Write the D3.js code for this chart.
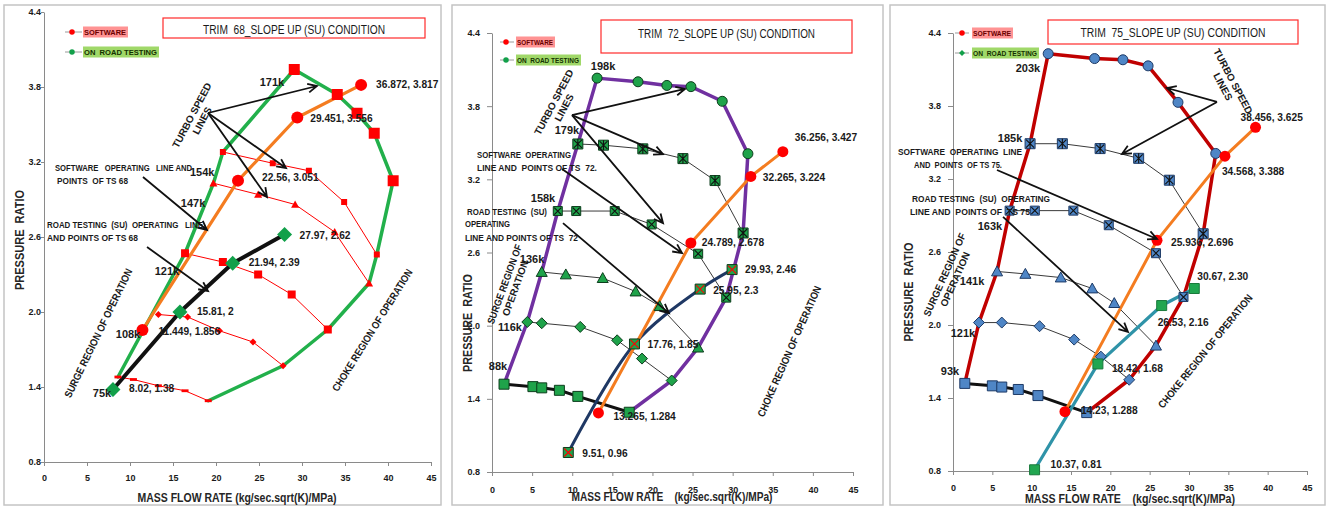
<!DOCTYPE html>
<html>
<head>
<meta charset="utf-8">
<script src="https://cdnjs.cloudflare.com/ajax/libs/d3/7.8.5/d3.min.js"></script>
<style>
  body { margin: 0; background: #fff; }
  svg { display: block; }
  text { font-family: "Liberation Sans Narrow", "Arial Narrow", "Liberation Sans", Arial, sans-serif; white-space: pre; }
</style>
</head>
<body>
<svg id="chart" width="1335" height="508"></svg>
<script>
// ---------- shared axis values ----------
const xTicks = [0, 5, 10, 15, 20, 25, 30, 35, 40, 45];
const yTicks = [0.8, 1.4, 2.0, 2.6, 3.2, 3.8, 4.4];

// ---------- TRIM 68 : [mass flow, pressure ratio] ----------
const t68Envelope = [[8.6,1.48],[16.4,2.47],[19.7,3.03],[20.8,3.28],[29.1,3.94],[34.1,3.74],[36.4,3.59],[38.4,3.43],[40.6,3.05],[38.7,2.46],[37.8,2.23],[33.0,1.86],[27.8,1.57],[19.1,1.29]];
const t68Speed171 = [[29.1,3.94],[34.1,3.74],[36.4,3.59],[38.4,3.43],[40.6,3.05]];
const t68Speed154 = [[20.8,3.28],[26.6,3.19],[30.8,3.13],[34.9,2.88],[38.7,2.46]];
const t68Speed147 = [[19.7,3.03],[24.9,2.94],[29.2,2.86],[33.8,2.64],[37.8,2.23]];
const t68Speed121 = [[16.4,2.47],[20.8,2.40],[24.9,2.30],[28.8,2.14],[33.0,1.86]];
const t68Speed108 = [[13.3,1.98],[16.7,1.96],[20.4,1.85],[24.3,1.76],[27.8,1.57]];
const t68Speed75  = [[8.6,1.48],[10.4,1.46],[13.3,1.41],[16.4,1.37],[19.1,1.29]];
const t68Software = [[11.449,1.856],[22.56,3.051],[29.451,3.556],[36.872,3.817]];
const t68Road     = [[8.02,1.38],[15.81,2],[21.94,2.39],[27.97,2.62]];
const t68SoftwareLabels = ["11.449, 1.856","22.56, 3.051","29.451, 3.556","36.872, 3.817"];
const t68RoadLabels     = ["8.02, 1.38","15.81, 2","21.94, 2.39","27.97, 2.62"];
const t68SpeedNames = ["171k","154k","147k","121k","108k","75k"];

// ---------- TRIM 72 ----------
const t72Envelope = [[1.5,1.52],[4.4,2.03],[6.2,2.44],[8.2,2.94],[10.7,3.49],[13.1,4.03],[18.2,4.0],[21.8,3.97],[24.8,3.96],[28.7,3.84],[31.9,3.41],[31.3,2.76],[29.2,2.23],[25.7,1.82],[22.4,1.55],[17.1,1.29]];
const t72Speed198 = [[13.1,4.03],[18.2,4.0],[21.8,3.97],[24.8,3.96],[28.7,3.84],[31.9,3.41]];
const t72Speed179 = [[10.7,3.49],[13.9,3.48],[18.8,3.45],[23.8,3.37],[27.8,3.19],[31.3,2.76]];
const t72Speed158 = [[8.2,2.94],[10.5,2.94],[15.3,2.94],[19.9,2.83],[25.7,2.59],[29.2,2.23]];
const t72Speed136 = [[6.2,2.44],[9.2,2.42],[13.8,2.39],[17.9,2.28],[20.9,2.16],[25.7,1.82]];
const t72Speed116 = [[4.4,2.03],[6.2,2.02],[11.0,1.99],[15.6,1.88],[18.7,1.73],[22.4,1.55]];
const t72Speed88  = [[1.5,1.52],[5.1,1.50],[6.2,1.49],[8.4,1.47],[10.7,1.42],[17.1,1.29]];
const t72Software = [[13.265,1.284],[24.789,2.678],[32.265,3.224],[36.256,3.427]];
const t72Road     = [[9.51,0.96],[17.76,1.85],[25.95,2.3],[29.93,2.46]];
const t72SoftwareLabels = ["13.265, 1.284","24.789, 2.678","32.265, 3.224","36.256, 3.427"];
const t72RoadLabels     = ["9.51, 0.96","17.76, 1.85","25.95, 2.3","29.93, 2.46"];
const t72SpeedNames = ["198k","179k","158k","136k","116k","88k"];

// ---------- TRIM 75 ----------
const t75Envelope = [[1.5,1.52],[3.3,2.02],[5.6,2.44],[7.2,2.94],[9.8,3.49],[12.1,4.23],[18.0,4.19],[21.6,4.18],[24.8,4.13],[28.6,3.83],[33.4,3.41],[31.8,2.75],[29.3,2.23],[25.8,1.83],[22.4,1.55],[17.0,1.28]];
const t75Speed203 = [[12.1,4.23],[18.0,4.19],[21.6,4.18],[24.8,4.13],[28.6,3.83],[33.4,3.41]];
const t75Speed185 = [[9.8,3.49],[13.9,3.49],[18.7,3.45],[23.6,3.37],[27.5,3.19],[31.8,2.75]];
const t75Speed163 = [[7.2,2.94],[10.4,2.94],[15.3,2.94],[19.8,2.82],[25.8,2.59],[29.3,2.23]];
const t75Speed141 = [[5.6,2.44],[9.2,2.42],[13.7,2.39],[17.7,2.30],[20.5,2.18],[25.8,1.83]];
const t75Speed121 = [[3.3,2.02],[6.2,2.02],[11.0,1.99],[15.4,1.88],[18.8,1.74],[22.4,1.55]];
const t75Speed93  = [[1.5,1.52],[5.0,1.50],[6.2,1.49],[8.3,1.47],[10.8,1.42],[17.0,1.28]];
const t75Software = [[14.23,1.288],[25.936,2.696],[34.568,3.388],[38.456,3.625]];
const t75Road     = [[10.37,0.81],[18.42,1.68],[26.53,2.16],[30.67,2.30]];
const t75SoftwareLabels = ["14.23, 1.288","25.936, 2.696","34.568, 3.388","38.456, 3.625"];
const t75RoadLabels     = ["10.37, 0.81","18.42, 1.68","26.53, 2.16","30.67, 2.30"];
const t75SpeedNames = ["203k","185k","163k","141k","121k","93k"];

const xTitleText = "MASS FLOW RATE (kg/sec.sqrt(K)/MPa)";
const xTitleWide = "MASS FLOW RATE    (kg/sec.sqrt(K)/MPa)";
const yTitleText = "PRESSURE  RATIO";

// ---------- colours ----------
const RED = "#ff0000", ORANGE = "#f47c20", BLACK = "#111";
const G72 = "#1fa34a", G72S = "#0c3d1c";
const B75 = "#4f86c6", B75S = "#1d3a66";

// ---------- panel layouts ----------
const panels = [
  {
    frame: [4, 5, 441, 505],
    plot: { left: 44, right: 431, top: 12, bottom: 462 },
    yTick: { size: 3, pad: 0 }, xTick: { size: 4, pad: 9 },
    title: { text: "TRIM  68_SLOPE UP (SU) CONDITION", box: [163, 18, 262, 20], ty: 30, len: 182 },
    legend: { x1: 65, x2: 82, dot: 72, y1: 32, y2: 52, tx: 84, w1: 45, w2: 76, roadDot: "circle" },
    xTitle: { text: xTitleText, x: 237, y: 498, len: 199 },
    yTitle: { x: 20, y: 240, len: 100 },
    series: [
      { data: t68Speed154, line: { color: RED, width: 1 }, marker: { type: "square", size: 6, fill: RED } },
      { data: t68Speed147, line: { color: RED, width: 1 }, marker: { type: "triangle", size: 8, fill: RED } },
      { data: t68Speed121, line: { color: RED, width: 1 }, marker: { type: "square", size: 8, fill: RED } },
      { data: t68Speed108, line: { color: RED, width: 1 }, marker: { type: "diamond", size: 7, fill: RED } },
      { data: t68Speed75,  line: { color: RED, width: 1 }, marker: { type: "dash", size: 7, fill: RED } },
      { data: t68Envelope, line: { color: "#22b04b", width: 3.5 } },
      { data: t68Speed171, marker: { type: "square", size: 11, fill: RED } },
      { data: t68Road,     line: { color: BLACK, width: 4 }, marker: { type: "diamond", size: 15, fill: "#12a04a" } },
      { data: t68Software, line: { color: ORANGE, width: 3.2 }, marker: { type: "circle", size: 12, fill: RED } }
    ],
    valueLabels: [
      { data: t68Software, texts: t68SoftwareLabels, off: [[16,1],[24,-3],[13,1],[15,0]] },
      { data: t68Road, texts: t68RoadLabels, off: [[16,-1],[17,-1],[16,-1],[15,1]] }
    ],
    speedNames: t68SpeedNames,
    speedAt: [[26.5,3.84],[18.4,3.12],[17.33,2.872],[14.3,2.328],[9.77,1.824],[6.74,1.352]],
    arrows: [
      [19.07,3.592,31.74,3.808],[19.07,3.592,28.14,3.152],[19.07,3.592,25.93,2.92],
      [11.51,3.08,18.95,2.656],[11.98,2.52,19.07,2.168]
    ],
    notes: [
      { text: "SOFTWARE   OPERATING   LINE AND", at: [1.28,3.16], len: 137 },
      { text: "POINTS  OF TS 68", at: [1.51,3.056], len: 71 },
      { text: "ROAD TESTING  (SU)  OPERATING   LINE", at: [0.35,2.704], len: 156 },
      { text: "AND POINTS OF TS 68", at: [0.35,2.6], len: 91 }
    ],
    rotated: [
      { lines: ["TURBO SPEED", "LINES"], at: [17.79,3.552], angle: -62, size: 10 },
      { lines: ["SURGE REGION OF OPERATION"], at: [6.28,1.832], angle: -64, size: 10.5, len: 142 },
      { lines: ["CHOKE REGION OF OPERATION"], at: [38.14,1.856], angle: -58, size: 10.5, len: 142 }
    ]
  },
  {
    frame: [452, 5, 883, 505],
    plot: { left: 492, right: 853, top: 33, bottom: 472 },
    yTick: { size: 5, pad: 7 }, xTick: { size: 4, pad: 11 },
    title: { text: "TRIM  72_SLOPE UP (SU) CONDITION", box: [601, 20, 251, 33], ty: 34, len: 177 },
    legend: { x1: 500, x2: 514, dot: 506, y1: 42, y2: 60, tx: 517, w1: 39, w2: 65, roadDot: "circle" },
    xTitle: { text: xTitleWide, x: 672, y: 497, len: 201 },
    yTitle: { x: 468, y: 323, len: 98 },
    series: [
      { data: t72Speed179, line: { color: "#3a3a3a", width: 1 } },
      { data: t72Speed158, line: { color: "#3a3a3a", width: 1 } },
      { data: t72Speed136, line: { color: "#3a3a3a", width: 1 } },
      { data: t72Speed116, line: { color: "#3a3a3a", width: 1 } },
      { data: t72Speed88,  line: { color: BLACK, width: 3 } },
      { data: t72Envelope, line: { color: "#7030a0", width: 3.5 } },
      { data: t72Road,     line: { color: "#1f3864", width: 3, smooth: true } },
      { data: t72Software, line: { color: ORANGE, width: 3 } },
      { data: t72Speed198, marker: { type: "circle", size: 10, fill: G72, stroke: G72S } },
      { data: t72Speed179, marker: { type: "squareStar", size: 10, fill: G72, stroke: G72S, cross: "#111" } },
      { data: t72Speed158, marker: { type: "squareX", size: 9, fill: G72, stroke: G72S, cross: "#111" } },
      { data: t72Speed136, marker: { type: "triangle", size: 11, fill: G72, stroke: G72S } },
      { data: t72Speed116, marker: { type: "diamond", size: 11, fill: G72, stroke: G72S } },
      { data: t72Speed88,  marker: { type: "square", size: 10, fill: G72, stroke: G72S } },
      { data: t72Road,     marker: { type: "squareX", size: 10, fill: G72, stroke: G72S, cross: RED } },
      { data: t72Software, marker: { type: "circle", size: 11, fill: RED } }
    ],
    valueLabels: [
      { data: t72Software, texts: t72SoftwareLabels, off: [[15,4],[11,0],[12,1],[12,-14]] },
      { data: t72Road, texts: t72RoadLabels, off: [[14,1],[13,1],[13,1],[13,0]] }
    ],
    speedNames: t72SpeedNames,
    speedAt: [[13.84,4.13],[9.35,3.604],[6.36,3.046],[4.99,2.546],[2.24,1.988],[0.75,1.668]],
    arrows: [
      [9.97,3.727,24.06,3.941],[9.97,3.727,21.32,3.407],[9.97,3.727,21.32,2.841],
      [8.73,3.284,23.69,2.595],[8.85,2.841,22.06,2.103]
    ],
    notes: [
      { text: "SOFTWARE  OPERATING", at: [-1.87,3.407], len: 94 },
      { text: "LINE AND  POINTS OF TS  72.", at: [-1.87,3.3], len: 120 },
      { text: "ROAD TESTING  (SU)", at: [-3.12,2.94], len: 80 },
      { text: "OPERATING", at: [-3.37,2.841], len: 45 },
      { text: "LINE AND POINTS OF TS  72", at: [-3.37,2.727], len: 113 }
    ],
    rotated: [
      { lines: ["TURBO SPEED", "LINES"], at: [8.35,3.81], angle: -62, size: 10 },
      { lines: ["SURGE REGION OF", "OPERATION"], at: [2.24,2.325], angle: -70, size: 10, len: 84 },
      { lines: ["CHOKE REGION OF OPERATION"], at: [37.02,1.791], angle: -66, size: 10.5, len: 142 }
    ]
  },
  {
    frame: [890, 5, 1325, 505],
    plot: { left: 953, right: 1307, top: 33, bottom: 471 },
    yTick: { size: 5, pad: 7 }, xTick: { size: 4, pad: 10 },
    title: { text: "TRIM  75_SLOPE UP (SU) CONDITION", box: [1048, 20, 250, 24], ty: 33, len: 185 },
    legend: { x1: 955, x2: 969, dot: 962, y1: 33, y2: 53, tx: 973, w1: 41, w2: 67, roadDot: "diamond" },
    xTitle: { text: xTitleWide, x: 1130, y: 499, len: 210 },
    yTitle: { x: 909, y: 292, len: 99 },
    series: [
      { data: t75Speed185, line: { color: "#3a3a3a", width: 1 } },
      { data: t75Speed163, line: { color: "#3a3a3a", width: 1 } },
      { data: t75Speed141, line: { color: "#3a3a3a", width: 1 } },
      { data: t75Speed121, line: { color: "#3a3a3a", width: 1 } },
      { data: t75Speed93,  line: { color: BLACK, width: 3 } },
      { data: t75Envelope, line: { color: "#c00000", width: 3.5 } },
      { data: t75Road,     line: { color: "#2f93a8", width: 3.2 } },
      { data: t75Software, line: { color: ORANGE, width: 3 } },
      { data: t75Speed203, marker: { type: "circle", size: 10, fill: B75, stroke: B75S } },
      { data: t75Speed185, marker: { type: "squareStar", size: 10, fill: B75, stroke: B75S, cross: "#111" } },
      { data: t75Speed163, marker: { type: "squareX", size: 9, fill: B75, stroke: B75S, cross: "#111" } },
      { data: t75Speed141, marker: { type: "triangle", size: 11, fill: B75, stroke: B75S } },
      { data: t75Speed121, marker: { type: "diamond", size: 11, fill: B75, stroke: B75S } },
      { data: t75Speed93,  marker: { type: "square", size: 10, fill: B75, stroke: B75S } },
      { data: t75Road,     marker: { type: "square", size: 10, fill: "#21a650", stroke: "#1a7a3c" } },
      { data: t75Software, marker: { type: "circle", size: 11, fill: RED } }
    ],
    valueLabels: [
      { data: t75Software, texts: t75SoftwareLabels, off: [[16,-1],[14,2],[-3,15],[-15,-10]] },
      { data: t75Road, texts: t75RoadLabels, off: [[16,-5],[14,5],[-4,17],[3,-12]] }
    ],
    speedNames: t75SpeedNames,
    speedAt: [[9.53,4.112],[7.25,3.537],[4.7,2.814],[2.42,2.362],[1.27,1.934],[-0.38,1.622]],
    arrows: [
      [33.56,3.833,27.2,3.948],[33.56,3.833,21.48,3.406],
      [5.59,3.274,25.93,2.707],[6.36,2.888,22.24,1.943]
    ],
    notes: [
      { text: "SOFTWARE  OPERATING  LINE", at: [-6.99,3.43], len: 124 },
      { text: "AND  POINTS  OF TS 75.", at: [-4.96,3.323], len: 88 },
      { text: "ROAD TESTING  (SU)  OPERATING", at: [-5.21,3.036], len: 138 },
      { text: "LINE AND  POINTS OF  TS 75", at: [-5.47,2.929], len: 120 }
    ],
    rotated: [
      { lines: ["TURBO SPEED", "LINES"], at: [34.96,3.981], angle: 62, size: 10 },
      { lines: ["SURGE REGION OF", "OPERATION"], at: [-0.4,2.395], angle: -66, size: 10, len: 90 },
      { lines: ["CHOKE REGION OF OPERATION"], at: [32.03,1.786], angle: -51, size: 10.5, len: 143 }
    ]
  }
];

// ---------- helpers ----------
const svg = d3.select("#chart");

function shapePath(type, s) {
  const h = s / 2;
  switch (type) {
    case "circle": return d3.symbol(d3.symbolCircle, Math.PI * h * h)();
    case "triangle": return `M0,${-h}L${h},${h * 0.8}L${-h},${h * 0.8}Z`;
    case "diamond": return `M0,${-h}L${h},0L0,${h}L${-h},0Z`;
    case "dash": return `M${-h},${-h * 0.4}H${h}V${h * 0.4}H${-h}Z`;
    default: return `M${-h},${-h}H${h}V${h}H${-h}Z`;
  }
}

function drawMarkers(g, data, m, x, y) {
  const h = m.size / 2 - 1;
  const sel = g.append("g").selectAll("g").data(data).join("g")
    .attr("transform", d => `translate(${x(d[0])},${y(d[1])})`);
  sel.append("path").attr("d", shapePath(m.type, m.size))
    .attr("fill", m.fill)
    .attr("stroke", m.stroke || "none")
    .attr("stroke-width", m.stroke ? 1 : 0);
  if (m.type === "squareX" || m.type === "squareStar") {
    let p = `M${-h},${-h}L${h},${h}M${h},${-h}L${-h},${h}`;
    if (m.type === "squareStar") p += `M0,${-h - 1}V${h + 1}`;
    sel.append("path").attr("d", p).attr("stroke", m.cross).attr("stroke-width", 1.1).attr("fill", "none");
  }
}

function drawArrow(g, x1, y1, x2, y2) {
  const a = Math.atan2(y2 - y1, x2 - x1), L = 10, w = 0.45;
  const p = `M${x1},${y1}L${x2},${y2}` +
    `M${x2 - L * Math.cos(a - w)},${y2 - L * Math.sin(a - w)}L${x2},${y2}` +
    `L${x2 - L * Math.cos(a + w)},${y2 - L * Math.sin(a + w)}`;
  g.append("path").attr("d", p).attr("fill", "none").attr("stroke", "#111")
    .attr("stroke-width", 1.8).attr("stroke-linejoin", "miter");
}

function drawPanel(cfg) {
  const g = svg.append("g");
  const P = cfg.plot;
  const x = d3.scaleLinear().domain([0, 45]).range([P.left, P.right]);
  const y = d3.scaleLinear().domain([0.8, 4.4]).range([P.bottom, P.top]);

  // outer chart frame
  const [fx0, fy0, fx1, fy1] = cfg.frame;
  g.append("rect").attr("x", fx0).attr("y", fy0).attr("width", fx1 - fx0).attr("height", fy1 - fy0)
    .attr("fill", "#fff").attr("stroke", "#c4c4c4").attr("stroke-width", 1.5);

  // axes
  const yAxis = d3.axisLeft(y).tickValues(yTicks).tickFormat(d3.format(".1f"))
    .tickSize(cfg.yTick.size).tickPadding(cfg.yTick.pad).tickSizeOuter(0);
  const xAxis = d3.axisBottom(x).tickValues(xTicks).tickFormat(d3.format("d"))
    .tickSize(cfg.xTick.size).tickPadding(cfg.xTick.pad).tickSizeOuter(0);
  const ya = g.append("g").attr("transform", `translate(${P.left},0)`).call(yAxis);
  const xa = g.append("g").attr("transform", `translate(0,${P.bottom})`).call(xAxis);
  [ya, xa].forEach(a => {
    a.select(".domain").attr("stroke", "#8a8a8a");
    a.selectAll(".tick line").attr("stroke", "#8a8a8a");
    a.selectAll(".tick text").attr("fill", "#1a1a1a").attr("font-size", 9).attr("font-weight", "bold")
      .attr("font-family", "'Liberation Sans Narrow','Arial Narrow','Liberation Sans',sans-serif");
  });

  // axis titles
  g.append("text").attr("x", cfg.xTitle.x).attr("y", cfg.xTitle.y).attr("text-anchor", "middle")
    .attr("dominant-baseline", "central").attr("font-size", 12).attr("font-weight", "bold")
    .attr("fill", "#262626").attr("textLength", cfg.xTitle.len).attr("lengthAdjust", "spacingAndGlyphs")
    .text(cfg.xTitle.text);
  g.append("text").attr("transform", `translate(${cfg.yTitle.x},${cfg.yTitle.y}) rotate(-90)`)
    .attr("text-anchor", "middle").attr("dominant-baseline", "central").attr("font-size", 12)
    .attr("font-weight", "bold").attr("fill", "#262626")
    .attr("textLength", cfg.yTitle.len).attr("lengthAdjust", "spacingAndGlyphs").text(yTitleText);

  // title box
  const tb = cfg.title.box;
  g.append("rect").attr("x", tb[0]).attr("y", tb[1]).attr("width", tb[2]).attr("height", tb[3])
    .attr("fill", "#fff").attr("stroke", "#ff2a2a").attr("stroke-width", 1.2);
  g.append("text").attr("x", tb[0] + tb[2] / 2).attr("y", cfg.title.ty).attr("text-anchor", "middle")
    .attr("dominant-baseline", "central").attr("font-size", 12).attr("fill", "#1a1a1a")
    .attr("textLength", cfg.title.len).attr("lengthAdjust", "spacingAndGlyphs").text(cfg.title.text);

  // legend
  const L = cfg.legend;
  [[L.y1, RED, "SOFTWARE", L.w1, "#ff8080", "#6a0000", "circle"],
   [L.y2, "#12a04a", "ON  ROAD TESTING", L.w2, "#8fd14f", "#143000", L.roadDot]].forEach(r => {
    g.append("line").attr("x1", L.x1).attr("x2", L.x2).attr("y1", r[0]).attr("y2", r[0])
      .attr("stroke", "#9a9a9a").attr("stroke-width", 1);
    g.append("path").attr("transform", `translate(${L.dot},${r[0]})`)
      .attr("d", shapePath(r[6], r[6] === "circle" ? 5.5 : 6)).attr("fill", r[1]);
    g.append("rect").attr("x", L.tx - 1).attr("y", r[0] - 5.5).attr("width", r[3]).attr("height", 11)
      .attr("fill", r[4]).attr("opacity", 0.85);
    g.append("text").attr("x", L.tx).attr("y", r[0]).attr("dominant-baseline", "central")
      .attr("font-size", 8).attr("font-weight", "bold").attr("fill", r[5])
      .attr("textLength", r[3] - 3).attr("lengthAdjust", "spacingAndGlyphs").text(r[2]);
  });

  // lines
  cfg.series.filter(s => s.line).forEach(s => {
    const gen = d3.line().x(d => x(d[0])).y(d => y(d[1]))
      .curve(s.line.smooth ? d3.curveCatmullRom.alpha(0.5) : d3.curveLinear);
    g.append("path").datum(s.data).attr("d", gen).attr("fill", "none")
      .attr("stroke", s.line.color).attr("stroke-width", s.line.width)
      .attr("stroke-linejoin", "round").attr("stroke-linecap", "round");
  });
  // markers
  cfg.series.filter(s => s.marker).forEach(s => drawMarkers(g, s.data, s.marker, x, y));

  // value labels
  cfg.valueLabels.forEach(v => {
    g.append("g").selectAll("text").data(v.data).join("text")
      .attr("x", (d, i) => x(d[0]) + v.off[i][0]).attr("y", (d, i) => y(d[1]) + v.off[i][1])
      .attr("dominant-baseline", "central").attr("font-size", 10.2).attr("font-weight", "bold")
      .attr("fill", "#1a1a1a").text((d, i) => v.texts[i]);
  });

  // speed labels
  g.append("g").selectAll("text").data(cfg.speedNames).join("text")
    .attr("x", (d, i) => x(cfg.speedAt[i][0])).attr("y", (d, i) => y(cfg.speedAt[i][1]))
    .attr("text-anchor", "middle").attr("dominant-baseline", "central")
    .attr("font-size", 11).attr("font-weight", "bold").attr("fill", "#1a1a1a").text(d => d);

  // notes
  cfg.notes.forEach(n => {
    g.append("text").attr("x", x(n.at[0])).attr("y", y(n.at[1])).attr("dominant-baseline", "central")
      .attr("font-size", 9.5).attr("font-weight", "bold").attr("fill", "#1a1a1a")
      .attr("textLength", n.len).attr("lengthAdjust", "spacingAndGlyphs").text(n.text);
  });

  // rotated region / speed-line captions
  cfg.rotated.forEach(r => {
    const t = g.append("g").attr("transform", `translate(${x(r.at[0])},${y(r.at[1])}) rotate(${r.angle})`);
    const n = r.lines.length;
    r.lines.forEach((ln, i) => {
      const txt = t.append("text").attr("x", 0).attr("y", (i - (n - 1) / 2) * r.size * 1.15)
        .attr("text-anchor", "middle").attr("dominant-baseline", "central")
        .attr("font-size", r.size).attr("font-weight", "bold").attr("fill", "#1a1a1a").text(ln);
      if (r.len && i === 0) txt.attr("textLength", r.len).attr("lengthAdjust", "spacingAndGlyphs");
    });
  });

  // arrows
  cfg.arrows.forEach(a => drawArrow(g, x(a[0]), y(a[1]), x(a[2]), y(a[3])));
}

panels.forEach(drawPanel);
</script>
</body>
</html>
